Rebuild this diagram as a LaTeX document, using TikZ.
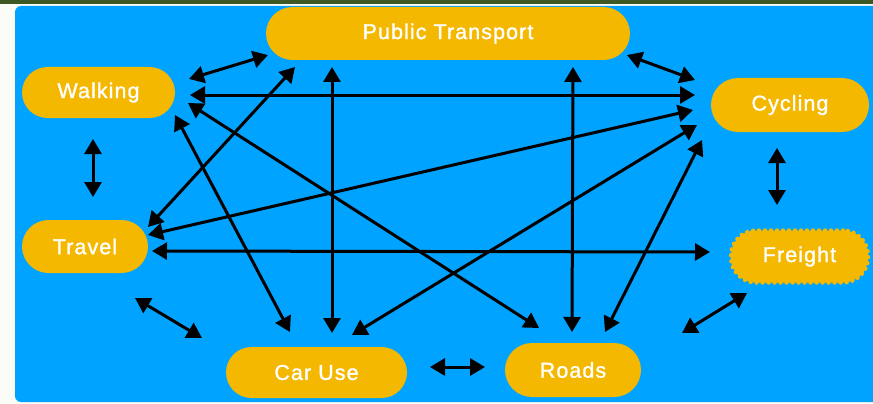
\documentclass[tikz,border=0pt]{standalone}
\usepackage{fontspec}
\setmainfont{Liberation Sans}
\usetikzlibrary{arrows.meta}
\definecolor{bgblue}{RGB}{0,163,255}
\definecolor{nodeorange}{RGB}{245,184,0}
\definecolor{topgreen}{RGB}{62,88,36}
\definecolor{cream}{RGB}{252,252,246}
\newfontfamily\pillfont[LetterSpace=5,FakeBold=1.3]{Liberation Sans}
\tikzset{
  pill/.style={fill=nodeorange, text=white, inner sep=0pt,
    font=\pillfont\fontsize{21.5}{21.5}\selectfont},
  link/.style={line width=3pt, {Triangle[length=15pt,width=17pt]}-{Triangle[length=15pt,width=17pt]}},
  scallop/.style={draw=nodeorange, line width=4.5pt, line cap=round, dash pattern=on 0pt off 6pt},
}
\begin{document}
\begin{tikzpicture}[x=1pt,y=-1pt]
\useasboundingbox (0,0) rectangle (873,404);
\fill[cream] (0,0) rectangle (873,404);
\fill[topgreen] (0,0) rectangle (873,4.5);
\fill[bgblue, rounded corners=6pt] (15,6) rectangle (890,402);

\node[pill, rounded corners=26.5pt, minimum width=364pt, minimum height=53pt] (pt) at (448,33.5) {Public Transport};
\node[pill, rounded corners=25.5pt, minimum width=153pt, minimum height=51pt] (walk) at (98.5,92.5) {Walking};
\node[pill, rounded corners=27pt, minimum width=158pt, minimum height=54pt] (cyc) at (790,105) {Cycling};
\node[pill, rounded corners=26.5pt, minimum width=126pt, minimum height=53pt] (trav) at (85,246.5) {Travel};
\node[pill, rounded corners=25pt, minimum width=137pt, minimum height=52pt,
      preaction={scallop}] (fr) at (799.5,256.5) {Freight};
\node[pill, rounded corners=25.5pt, minimum width=181pt, minimum height=51pt] (car) at (316.5,372.5) {Car Use};
\node[pill, rounded corners=27pt, minimum width=136pt, minimum height=54pt] (roads) at (573,370) {Roads};

% connector end points
\coordinate (wpA) at (189,79);  \coordinate (wpB) at (268,55);
\coordinate (wcA) at (190,95);  \coordinate (wcB) at (695,95);
\coordinate (wtA) at (93,139);  \coordinate (wtB) at (93,197);
\coordinate (pcA) at (627,55);  \coordinate (pcB) at (695,80);
\coordinate (tpA) at (148,227); \coordinate (tpB) at (295,67);
\coordinate (wuA) at (175,115); \coordinate (wuB) at (290,332);
\coordinate (wrA) at (188,103); \coordinate (wrB) at (539,328);
\coordinate (tcA) at (148,235); \coordinate (tcB) at (693,110);
\coordinate (tfA) at (152,251); \coordinate (tfB) at (710,252);
\coordinate (puA) at (332,67);  \coordinate (puB) at (332,333);
\coordinate (prA) at (573,67);  \coordinate (prB) at (572,332);
\coordinate (cuA) at (697,125); \coordinate (cuB) at (352,335);
\coordinate (crA) at (702,140); \coordinate (crB) at (605,332);
\coordinate (cfA) at (777,148); \coordinate (cfB) at (777,205);
\coordinate (tuA) at (135,298); \coordinate (tuB) at (202,338);
\coordinate (urA) at (430,367); \coordinate (urB) at (485,367);
\coordinate (rfA) at (682,333); \coordinate (rfB) at (747,293);

\foreach \n in {wp,wc,wt,pc,tp,wu,wr,tc,tf,pu,pr,cu,cr,cf,tu,ur,rf}
  \draw[link] (\n A) -- (\n B);
\end{tikzpicture}
\end{document}
